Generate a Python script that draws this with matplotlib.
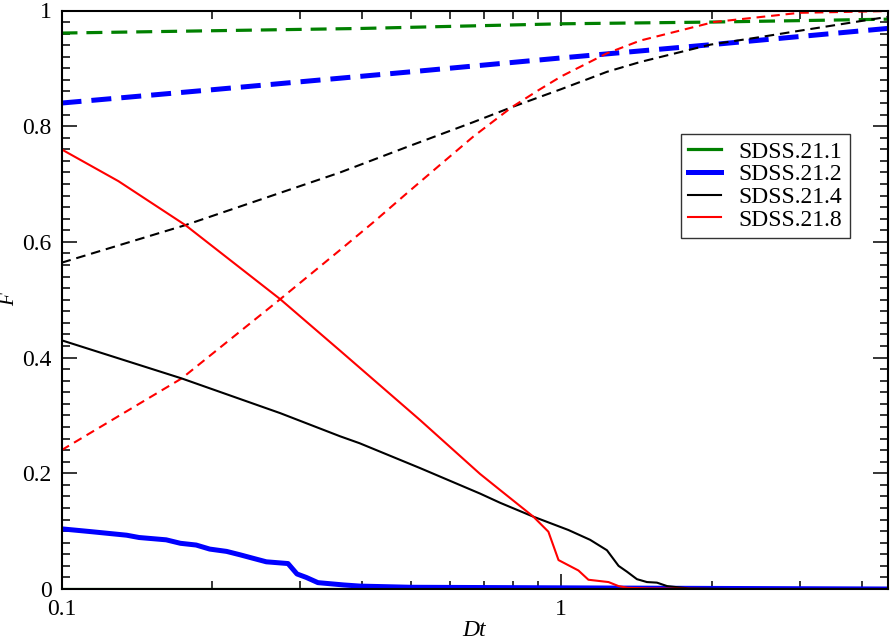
import matplotlib
matplotlib.use("Agg")
import matplotlib.pyplot as plt
from matplotlib.ticker import FixedLocator, NullFormatter, MultipleLocator, FuncFormatter
import numpy as np

# ---- data ----
g_dash_x = [0.1, 0.4, 1.0, 2.0, 4.5]
g_dash_y = [0.961, 0.969, 0.977, 0.980, 0.985]
g_sol_x = [0.1, 4.5]
g_sol_y = [0.0, 0.0]

b_dash_x = [0.1, 0.2, 0.5, 1.0, 2.0, 4.5]
b_dash_y = [0.840, 0.863, 0.894, 0.918, 0.941, 0.969]
b_sol_x = [0.1, 0.115, 0.135, 0.143, 0.162, 0.173, 0.186, 0.198, 0.214, 0.228,
           0.242, 0.257, 0.284, 0.296, 0.309, 0.326, 0.367, 0.396, 0.5, 1.0, 2.0, 4.5]
b_sol_y = [0.104, 0.099, 0.093, 0.089, 0.085, 0.079, 0.076, 0.069, 0.065, 0.059,
           0.053, 0.047, 0.044, 0.026, 0.020, 0.011, 0.007, 0.005, 0.003, 0.002, 0.001, 0.0]

k_dash_x = [0.1, 0.177, 0.361, 0.491, 0.667, 0.797, 1.0, 1.235, 1.44, 1.99,
            2.5, 3.0, 4.5]
k_dash_y = [0.564, 0.629, 0.720, 0.764, 0.807, 0.833, 0.864, 0.894, 0.911, 0.941,
            0.954, 0.965, 0.989]
k_sol_x = [0.1, 0.174, 0.274, 0.361, 0.395, 0.522, 0.688, 0.755, 0.880, 1.034,
           1.143, 1.235, 1.303, 1.354, 1.418, 1.485, 1.555, 1.63, 1.8, 2.2, 4.5]
k_sol_y = [0.430, 0.364, 0.304, 0.264, 0.252, 0.209, 0.165, 0.149, 0.125, 0.102,
           0.085, 0.067, 0.040, 0.030, 0.017, 0.012, 0.011, 0.005, 0.001, 0.0, 0.0]

r_dash_x = [0.1, 0.174, 0.274, 0.361, 0.421, 0.491, 0.572, 0.667, 0.797,
            0.90, 1.0, 1.235, 1.44, 2.02, 3.0, 4.5]
r_dash_y = [0.240, 0.364, 0.501, 0.586, 0.634, 0.684, 0.733, 0.782, 0.833,
            0.862, 0.886, 0.926, 0.948, 0.980, 0.996, 0.999]
r_sol_x = [0.1, 0.13, 0.177, 0.274, 0.361, 0.522, 0.688, 0.755, 0.880,
           0.943, 0.988, 1.083, 1.134, 1.244, 1.303, 1.36, 1.5, 2.0, 4.5]
r_sol_y = [0.760, 0.705, 0.629, 0.501, 0.412, 0.292, 0.199, 0.171, 0.125,
           0.099, 0.050, 0.032, 0.016, 0.012, 0.005, 0.002, 0.001, 0.0, 0.0]

labels = ["SDSS.21.1", "SDSS.21.2", "SDSS.21.4", "SDSS.21.8"]
x_major = [0.1, 1.0]
y_major = [0, 0.2, 0.4, 0.6, 0.8, 1.0]

# ---- figure ----
W, H = 892, 639
fig = plt.figure(figsize=(W / 100, H / 100), dpi=100)
L, R, T, B = 61.5, 887.5, 10.5, 589
ax = fig.add_axes([L / W, (H - B) / H, (R - L) / W, (B - T) / H])

serif = "Liberation Serif"
GREEN, BLUE, BLACK, RED = "#008000", "#0000ff", "#000000", "#ff0000"

# dashed curves
ax.plot(g_dash_x, g_dash_y, color=GREEN, lw=2.3, dashes=(5.0, 2.8))
ax.plot(b_dash_x, b_dash_y, color=BLUE, lw=3.6, dashes=(4.0, 2.0))
ax.plot(k_dash_x, k_dash_y, color=BLACK, lw=1.5, dashes=(4.6, 2.8))
ax.plot(r_dash_x, r_dash_y, color=RED, lw=1.5, dashes=(4.2, 2.8))

# solid curves
h1, = ax.plot(g_sol_x, g_sol_y, color=GREEN, lw=2.3)
h2, = ax.plot(b_sol_x, b_sol_y, color=BLUE, lw=3.6)
h3, = ax.plot(k_sol_x, k_sol_y, color=BLACK, lw=1.5)
h4, = ax.plot(r_sol_x, r_sol_y, color=RED, lw=1.5)

ax.set_xscale("log")
ax.set_xlim(0.1, 4.5)
ax.set_ylim(0, 1)

ax.xaxis.set_major_locator(FixedLocator(x_major))
ax.xaxis.set_major_formatter(FuncFormatter(lambda v, p: f"{v:g}"))
ax.xaxis.set_minor_locator(FixedLocator([0.2, 0.3, 0.4, 0.5, 0.6, 0.7, 0.8, 0.9, 2, 3, 4]))
ax.xaxis.set_minor_formatter(NullFormatter())
ax.yaxis.set_major_locator(FixedLocator(y_major))
ax.yaxis.set_major_formatter(FuncFormatter(lambda v, p: f"{v:g}"))
ax.yaxis.set_minor_locator(MultipleLocator(0.02))

ax.tick_params(which="both", direction="in", top=True, right=True, width=1.1, color="black")
ax.tick_params(which="major", length=11, pad=7)
ax.tick_params(which="minor", length=6)
for lab in ax.get_xticklabels() + ax.get_yticklabels():
    lab.set_fontfamily(serif)
    lab.set_fontsize(17)
for s in ax.spines.values():
    s.set_linewidth(1.5)

ax.set_xlabel("Dt", fontfamily=serif, fontstyle="italic", fontsize=17, labelpad=0)
ax.set_ylabel("F", fontfamily=serif, fontstyle="italic", fontsize=15)
ax.yaxis.set_label_coords((19 - L) / (R - L), 0.5)

leg = ax.legend([h1, h2, h3, h4], labels, loc="upper left",
                bbox_to_anchor=((681 - L) / (R - L), 1 - (134 - T) / (B - T)),
                prop={"family": serif, "size": 17}, frameon=True, fancybox=False,
                edgecolor="black", handlelength=1.4, handletextpad=0.75,
                labelspacing=0.05, borderpad=0.3, borderaxespad=0)
leg.get_frame().set_linewidth(1.0)

fig.savefig("out.png", dpi=100)
